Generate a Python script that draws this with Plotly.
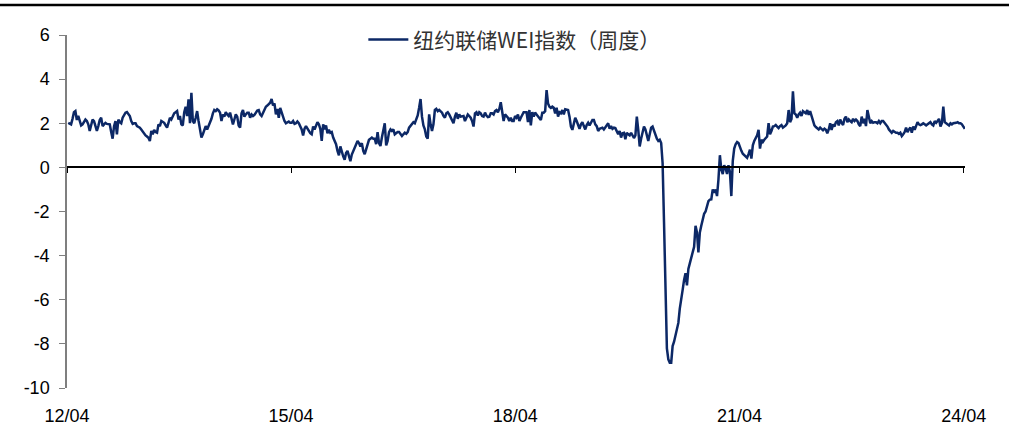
import pandas as pd
import plotly.graph_objects as go

# New York Fed Weekly Economic Index, weekly readings from April 2012
wei = [
    # 2012-04 .. 2013-04
    2.02, 1.98, 1.95, 2.2, 2.5, 2.55, 2.15, 2.33, 2.05, 1.9, 1.95, 2.1, 2.17, 2.1, 1.95, 1.65,
    1.9, 2.17, 2.1, 1.8, 1.65, 1.87, 2.15, 2.25, 1.87, 1.95, 2.02, 1.97, 1.95, 1.95, 1.6, 1.3,
    1.87, 2.1, 1.5, 2.17, 2.05, 2.0, 2.25, 2.4, 2.48, 2.51, 2.4, 2.33, 2.1, 1.97, 2.0, 2.0,
    1.87, 1.85, 1.8, 1.72,
    # 2013-04 .. 2014-04
    1.62, 1.55, 1.45, 1.4, 1.34, 1.19, 1.65, 1.5, 1.7, 1.6, 1.57, 1.95, 1.87, 2.1, 2.05, 2.02,
    1.9, 1.8, 2.02, 2.25, 2.17, 2.3, 2.45, 2.5, 2.55, 2.17, 2.33, 1.95, 1.9, 2.5, 2.75, 2.33,
    3.08, 2.0, 3.38, 2.1, 2.0, 2.25, 2.55, 2.1, 1.7, 1.35, 1.5, 1.75, 1.87, 1.72, 1.87, 2.0,
    2.2, 2.45, 2.6, 2.55,
    # 2014-04 .. 2015-04
    2.63, 2.58, 2.48, 2.1, 2.4, 2.3, 2.5, 2.4, 2.33, 2.48, 2.25, 1.95, 2.17, 2.4, 2.3, 1.9,
    1.8, 2.45, 2.6, 2.3, 2.4, 2.48, 2.48, 2.25, 2.4, 2.33, 2.38, 2.5, 2.58, 2.6, 2.4, 2.33,
    2.48, 2.65, 2.75, 2.8, 2.85, 2.93, 3.1, 2.8, 2.9, 2.4, 2.65, 2.25, 2.7, 2.48, 2.2, 2.1,
    2.0, 2.05, 2.08, 2.02,
    # 2015-04 .. 2016-04
    2.02, 2.1, 1.97, 2.0, 2.08, 2.0, 1.85, 1.72, 1.45, 1.75, 1.87, 1.75, 1.65, 1.55, 1.5, 1.85,
    1.72, 1.9, 2.05, 1.95, 1.75, 1.2, 1.95, 1.72, 1.9, 1.55, 1.7, 1.57, 1.6, 1.35, 1.2, 1.05,
    0.75, 0.55, 0.95, 0.7, 0.5, 0.35, 0.65, 0.75, 0.45, 0.28, 0.58, 0.75, 0.95, 1.1, 1.2, 1.1,
    0.95, 1.1, 0.75, 0.6,
    # 2016-04 .. 2017-04
    0.8, 1.1, 1.25, 1.3, 1.35, 1.3, 1.3, 1.05, 1.6, 1.1, 0.97, 1.35, 1.7, 2.0, 1.0, 1.2,
    1.6, 1.72, 1.65, 1.72, 1.5, 1.55, 1.6, 1.6, 1.5, 1.42, 1.5, 1.57, 1.52, 1.6, 1.8, 1.9,
    2.0, 2.05, 2.0, 2.2, 2.35, 2.7, 3.1, 2.3, 1.9, 1.72, 1.4, 1.3, 2.4, 1.95, 1.65, 1.95,
    2.6, 2.65, 2.55, 2.6,
    # 2017-04 .. 2018-04
    2.55, 2.48, 2.33, 2.25, 2.45, 2.5, 2.4, 2.28, 2.1, 2.0, 2.3, 2.48, 2.2, 2.4, 2.3, 2.33,
    2.33, 2.1, 2.25, 2.4, 2.33, 2.25, 2.1, 1.85, 2.45, 2.5, 2.35, 2.5, 2.45, 2.33, 2.3, 2.48,
    2.35, 2.28, 2.3, 2.45, 2.45, 2.4, 2.55, 2.6, 2.5, 2.65, 2.95, 2.55, 2.1, 2.4, 2.33, 2.25,
    2.1, 2.25, 2.1, 2.1,
    # 2018-04 .. 2019-04
    2.33, 2.25, 2.4, 2.1, 2.25, 2.38, 2.5, 2.5, 2.5, 2.05, 2.6, 1.9, 2.5, 2.3, 2.48, 2.4,
    2.3, 2.2, 2.15, 2.48, 2.48, 2.55, 3.5, 2.9, 2.75, 2.7, 2.75, 2.7, 2.45, 2.7, 2.3, 2.5,
    2.45, 2.6, 2.4, 2.63, 2.63, 2.6, 2.3, 1.85, 1.7, 1.95, 2.25, 2.1, 1.9, 1.75, 1.95, 2.05,
    1.87, 1.72, 1.92, 2.02,
    # 2019-04 .. 2020-04
    1.9, 2.05, 2.15, 2.15, 1.95, 1.87, 1.65, 1.75, 1.78, 1.8, 1.72, 1.8, 1.87, 2.0, 1.75, 1.87,
    1.75, 1.8, 1.78, 1.6, 1.5, 1.65, 1.35, 1.55, 1.57, 1.27, 1.57, 1.5, 1.45, 1.57, 1.45, 1.33,
    1.45, 2.3, 1.7, 0.95, 1.3, 1.6, 1.85, 1.72, 1.5, 1.2, 1.5, 1.8, 1.85, 1.65, 1.5, 1.3,
    1.2, 1.25, 1.1, 0.2,
    # 2020-04 .. 2021-04
    -2.5, -5.5, -8.2, -8.7, -8.85, -8.85, -8.1, -7.9, -7.6, -7.3, -7.05, -6.4, -5.85, -5.55, -5.1, -4.8,
    -5.35, -4.6, -4.35, -4.1, -3.98, -3.6, -2.65, -2.95, -3.85, -2.95, -2.65, -2.35, -2.1, -2.0, -1.8, -1.53,
    -1.46, -1.45, -1.0, -1.15, -1.0, -1.3, -0.55, 0.55, -0.1, -0.3, 0.1, -0.05, -0.3, 0.1, -0.2, -1.3,
    0.3, 0.85, 1.05, 1.15,
    # 2021-04 .. 2022-04
    1.1, 0.9, 0.75, 0.62, 0.55, 0.47, 0.43, 0.6, 0.8, 0.4, 1.0, 1.2, 1.3, 1.45, 1.7, 0.85,
    1.25, 1.15, 1.25, 1.32, 1.4, 2.0, 1.5, 1.65, 1.85, 1.87, 1.92, 1.85, 1.78, 1.87, 1.92, 1.8,
    1.85, 1.9, 2.0, 2.6, 2.05, 2.2, 3.45, 2.45, 2.4, 2.25, 2.4, 2.48, 2.33, 2.55, 2.5, 2.45,
    2.6, 2.38, 2.55, 2.3,
    # 2022-04 .. 2023-04
    2.05, 1.9, 1.83, 1.78, 1.72, 1.8, 1.75, 1.68, 1.75, 1.7, 1.55, 1.72, 2.0, 1.7, 1.95, 1.85,
    2.05, 2.1, 1.9, 2.17, 2.02, 1.92, 2.2, 2.3, 2.05, 2.17, 2.1, 2.05, 2.2, 2.1, 2.17, 2.1,
    1.95, 1.87, 2.3, 2.0, 2.2, 1.87, 2.6, 2.2, 2.0, 2.1, 2.02, 2.05, 2.05, 2.0, 2.1, 2.0,
    2.1, 2.1, 2.02, 1.95,
    # 2023-04 .. 2024-04
    1.85, 1.72, 1.65, 1.57, 1.65, 1.6, 1.57, 1.57, 1.52, 1.57, 1.42, 1.5, 1.6, 1.8, 1.6, 1.72,
    1.8, 1.57, 1.85, 1.7, 1.9, 2.05, 1.95, 1.92, 1.95, 2.0, 1.95, 1.9, 1.95, 2.0, 2.05, 1.95,
    1.9, 2.1, 2.02, 2.1, 2.2, 1.85, 2.0, 2.75, 2.05, 2.0, 1.95, 1.9, 2.0, 1.95, 2.0, 2.0,
    2.02, 2.05, 2.0, 2.0, 1.95, 1.85, 1.75,
]

weeks = pd.date_range("2012-04-07", periods=len(wei), freq="W-SAT")

tick_dates = ["2012-04-01", "2015-04-01", "2018-04-01", "2021-04-01", "2024-04-01"]
tick_text = ["12/04", "15/04", "18/04", "21/04", "24/04"]
y_ticks = [-10, -8, -6, -4, -2, 0, 2, 4, 6]
y_text = ["-10", "-8", "-6", "-4", "-2", "0", "2", "4", "6"]

series_name = "纽约联储WEI指数（周度）"
line_color = "#0c2866"
tick_font = dict(family="Liberation Sans, Arial, sans-serif", size=18, color="#000000")

fig = go.Figure()
fig.add_trace(go.Scatter(
    x=weeks, y=wei, mode="lines", name=series_name,
    line=dict(color=line_color, width=2.5),
    xaxis="x", yaxis="y",
))
# carrier for the axis drawn along y = 0
fig.add_trace(go.Scatter(
    x=[weeks[0]], y=[None], mode="lines", showlegend=False,
    hoverinfo="skip", xaxis="x2", yaxis="y",
))

x_range = ["2012-04-01", "2024-04-07"]

fig.update_layout(
    width=1009, height=426,
    margin=dict(l=67, r=44, t=35, b=38),
    paper_bgcolor="white", plot_bgcolor="white",
    showlegend=True,
    legend=dict(
        x=0.330, y=0.986, xanchor="left", yanchor="middle",
        bgcolor="rgba(0,0,0,0)",
        font=dict(family="Noto Sans CJK SC, Liberation Sans, Arial, sans-serif",
                  size=21, color="#333333"),
        itemwidth=40,
    ),
    xaxis=dict(
        range=x_range, type="date", automargin=False,
        tickvals=tick_dates, ticktext=tick_text,
        showline=False, showgrid=False, zeroline=False, ticks="",
        tickfont=tick_font, ticklabelstandoff=15,
    ),
    xaxis2=dict(
        range=x_range, type="date", overlaying="x", matches="x",
        anchor="free", position=0.625, automargin=False,
        tickvals=tick_dates, showticklabels=False,
        showline=True, linecolor="#000000", linewidth=1.5,
        ticks="outside", ticklen=5, tickcolor="#000000", tickwidth=1,
        showgrid=False, zeroline=False,
    ),
    yaxis=dict(
        range=[-10, 6], tickvals=y_ticks, ticktext=y_text, automargin=False,
        showline=True, linecolor="#7f7f7f", linewidth=1.5,
        ticks="outside", ticklen=6, tickcolor="#7f7f7f",
        showgrid=False, zeroline=False,
        tickfont=tick_font, ticklabelstandoff=6,
    ),
    shapes=[dict(
        type="line", xref="paper", yref="paper",
        x0=-67 / 896, x1=(1009 - 67) / 896, y0=1 + 30 / 353, y1=1 + 30 / 353,
        line=dict(color="#000000", width=2.5),
    )],
)

fig.write_html("out.html")
